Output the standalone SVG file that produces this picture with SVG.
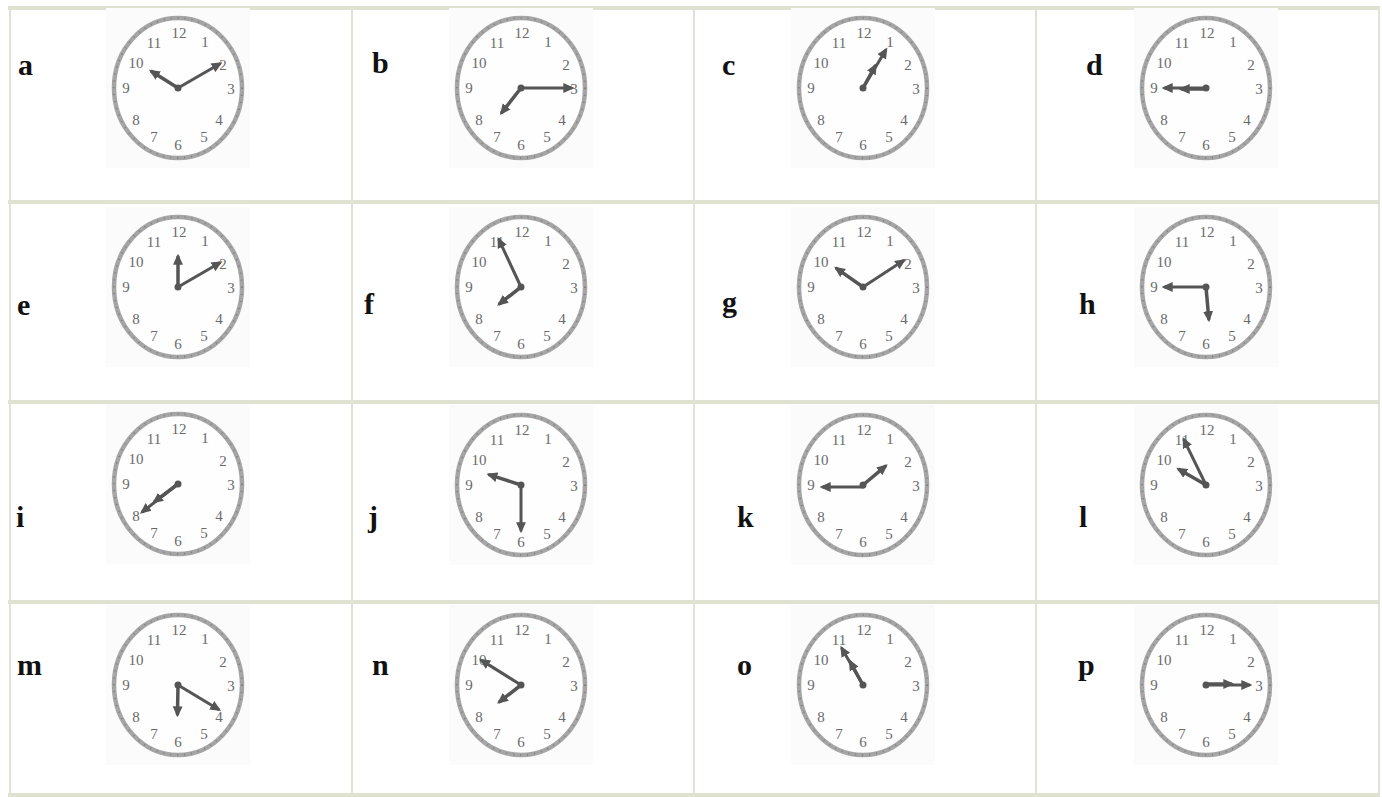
<svg xmlns="http://www.w3.org/2000/svg" xmlns:xlink="http://www.w3.org/1999/xlink" width="1382" height="797" viewBox="0 0 1382 797">
<style>
.hl{stroke:#dfe2cf;stroke-width:4;fill:none}
.vl{stroke:#e0e2d6;stroke-width:2;fill:none}
.lbl{font-family:"Liberation Serif","Times New Roman",serif;font-weight:bold;font-size:30px;fill:#111}
.num{font-family:"Liberation Serif","Times New Roman",serif;font-size:15px;fill:#6a6a6a;text-anchor:middle}
.ring{fill:#fefefe;stroke:#a5a5a5;stroke-width:4.5}
.tick{fill:none;stroke:#808080;stroke-width:2;stroke-dasharray:1 6}
.mh{stroke:#555;stroke-width:3;stroke-linecap:round;marker-end:url(#ah)}
.hh{stroke:#555;stroke-width:3.5;stroke-linecap:round;marker-end:url(#ah)}
.hub{fill:#555}
.bg{fill:#fbfbfb}
</style>
<defs>
<marker id="ah" viewBox="0 0 10 10" refX="7" refY="5" markerWidth="11" markerHeight="11" markerUnits="userSpaceOnUse" orient="auto">
<path d="M0,0.5 L10,5 L0,9.5 z" fill="#555"/>
</marker>
<g id="face">
<rect class="bg" x="-72" y="-80" width="144" height="160"/>
<ellipse class="ring" cx="0" cy="0" rx="64" ry="70"/>
<ellipse class="tick" cx="0" cy="0" rx="64" ry="70"/>
<text class="num" x="1" y="-50">12</text>
<text class="num" x="27" y="-41">1</text>
<text class="num" x="45" y="-18">2</text>
<text class="num" x="53" y="6">3</text>
<text class="num" x="41" y="37">4</text>
<text class="num" x="26" y="54">5</text>
<text class="num" x="0" y="62">6</text>
<text class="num" x="-24" y="54">7</text>
<text class="num" x="-42" y="37">8</text>
<text class="num" x="-52" y="5">9</text>
<text class="num" x="-42" y="-20">10</text>
<text class="num" x="-24" y="-40">11</text>
</g>
</defs>
<rect x="0" y="0" width="1382" height="797" fill="#ffffff"/>
<g id="grid">
<line class="hl" x1="8" y1="8" x2="1380" y2="8"/>
<line class="hl" x1="8" y1="202" x2="1380" y2="202"/>
<line class="hl" x1="8" y1="402" x2="1380" y2="402"/>
<line class="hl" x1="8" y1="602" x2="1380" y2="602"/>
<line class="hl" x1="8" y1="795" x2="1380" y2="795"/>
<line class="vl" x1="10" y1="8" x2="10" y2="795"/>
<line class="vl" x1="352" y1="8" x2="352" y2="795"/>
<line class="vl" x1="694" y1="8" x2="694" y2="795"/>
<line class="vl" x1="1036" y1="8" x2="1036" y2="795"/>
<line class="vl" x1="1379" y1="8" x2="1379" y2="795"/>
</g>
<g id="clock-a" transform="translate(178,88)"><use xlink:href="#face" href="#face"/><line class="mh" x1="0" y1="0" x2="0" y2="-48" transform="rotate(60)"/><line class="hh" x1="0" y1="0" x2="0" y2="-31" transform="rotate(302)"/><circle class="hub" r="3.5"/></g>
<g id="clock-b" transform="translate(521,88)"><use xlink:href="#face" href="#face"/><line class="mh" x1="0" y1="0" x2="0" y2="-50" transform="rotate(90)"/><line class="hh" x1="0" y1="0" x2="0" y2="-31" transform="rotate(218)"/><circle class="hub" r="3.5"/></g>
<g id="clock-c" transform="translate(863,88)"><use xlink:href="#face" href="#face"/><line class="mh" x1="0" y1="0" x2="0" y2="-44" transform="rotate(31)"/><line class="hh" x1="0" y1="0" x2="0" y2="-25" transform="rotate(29)"/><circle class="hub" r="3.5"/></g>
<g id="clock-d" transform="translate(1206,88)"><use xlink:href="#face" href="#face"/><line class="mh" x1="0" y1="0" x2="0" y2="-41" transform="rotate(270)"/><line class="hh" x1="0" y1="1" x2="-24" y2="1"/><circle class="hub" r="3.5"/></g>
<g id="clock-e" transform="translate(178,287)"><use xlink:href="#face" href="#face"/><line class="mh" x1="0" y1="0" x2="0" y2="-48" transform="rotate(60)"/><line class="hh" x1="0" y1="0" x2="0" y2="-30" transform="rotate(0)"/><circle class="hub" r="3.5"/></g>
<g id="clock-f" transform="translate(521,287)"><use xlink:href="#face" href="#face"/><line class="mh" x1="0" y1="0" x2="0" y2="-52" transform="rotate(335)"/><line class="hh" x1="0" y1="0" x2="0" y2="-27" transform="rotate(232)"/><circle class="hub" r="3.5"/></g>
<g id="clock-g" transform="translate(863,287)"><use xlink:href="#face" href="#face"/><line class="mh" x1="0" y1="0" x2="0" y2="-48" transform="rotate(57)"/><line class="hh" x1="0" y1="0" x2="0" y2="-32" transform="rotate(305)"/><circle class="hub" r="3.5"/></g>
<g id="clock-h" transform="translate(1206,287)"><use xlink:href="#face" href="#face"/><line class="mh" x1="0" y1="0" x2="0" y2="-41" transform="rotate(270)"/><line class="hh" x1="0" y1="0" x2="0" y2="-32" transform="rotate(175)"/><circle class="hub" r="3.5"/></g>
<g id="clock-i" transform="translate(178,484)"><use xlink:href="#face" href="#face"/><line class="mh" x1="0" y1="0" x2="0" y2="-45" transform="rotate(232)"/><line class="hh" x1="0" y1="0" x2="0" y2="-29" transform="rotate(233)"/><circle class="hub" r="3.5"/></g>
<g id="clock-j" transform="translate(521,485)"><use xlink:href="#face" href="#face"/><line class="mh" x1="0" y1="0" x2="0" y2="-45" transform="rotate(180)"/><line class="hh" x1="0" y1="0" x2="0" y2="-33" transform="rotate(288)"/><circle class="hub" r="3.5"/></g>
<g id="clock-k" transform="translate(863,485)"><use xlink:href="#face" href="#face"/><line class="mh" x1="0" y1="2" x2="-40" y2="2"/><line class="hh" x1="0" y1="0" x2="0" y2="-29" transform="rotate(50)"/><circle class="hub" r="3.5"/></g>
<g id="clock-l" transform="translate(1206,485)"><use xlink:href="#face" href="#face"/><line class="mh" x1="0" y1="0" x2="0" y2="-50" transform="rotate(334)"/><line class="hh" x1="0" y1="0" x2="0" y2="-31" transform="rotate(300)"/><circle class="hub" r="3.5"/></g>
<g id="clock-m" transform="translate(178,685)"><use xlink:href="#face" href="#face"/><line class="mh" x1="0" y1="0" x2="0" y2="-47" transform="rotate(121)"/><line class="hh" x1="0" y1="0" x2="0" y2="-29" transform="rotate(181)"/><circle class="hub" r="3.5"/></g>
<g id="clock-n" transform="translate(521,685)"><use xlink:href="#face" href="#face"/><line class="mh" x1="0" y1="0" x2="0" y2="-46" transform="rotate(302)"/><line class="hh" x1="0" y1="0" x2="0" y2="-27" transform="rotate(232)"/><circle class="hub" r="3.5"/></g>
<g id="clock-o" transform="translate(863,685)"><use xlink:href="#face" href="#face"/><line class="mh" x1="0" y1="0" x2="0" y2="-42" transform="rotate(330)"/><line class="hh" x1="0" y1="0" x2="0" y2="-26" transform="rotate(331)"/><circle class="hub" r="3.5"/></g>
<g id="clock-p" transform="translate(1206,685)"><use xlink:href="#face" href="#face"/><line class="mh" x1="0" y1="0" x2="0" y2="-43" transform="rotate(90)"/><line class="hh" x1="0" y1="-1" x2="25" y2="-1"/><circle class="hub" r="3.5"/></g>
<g id="labels">
<text class="lbl" x="18" y="75">a</text>
<text class="lbl" x="372" y="73">b</text>
<text class="lbl" x="722" y="75">c</text>
<text class="lbl" x="1086" y="75">d</text>
<text class="lbl" x="17" y="315">e</text>
<text class="lbl" x="364" y="314">f</text>
<text class="lbl" x="722" y="312">g</text>
<text class="lbl" x="1079" y="314">h</text>
<text class="lbl" x="16" y="527">i</text>
<text class="lbl" x="368" y="527">j</text>
<text class="lbl" x="737" y="527">k</text>
<text class="lbl" x="1079" y="527">l</text>
<text class="lbl" x="17" y="675">m</text>
<text class="lbl" x="372" y="675">n</text>
<text class="lbl" x="737" y="675">o</text>
<text class="lbl" x="1078" y="675">p</text>
</g>
</svg>
